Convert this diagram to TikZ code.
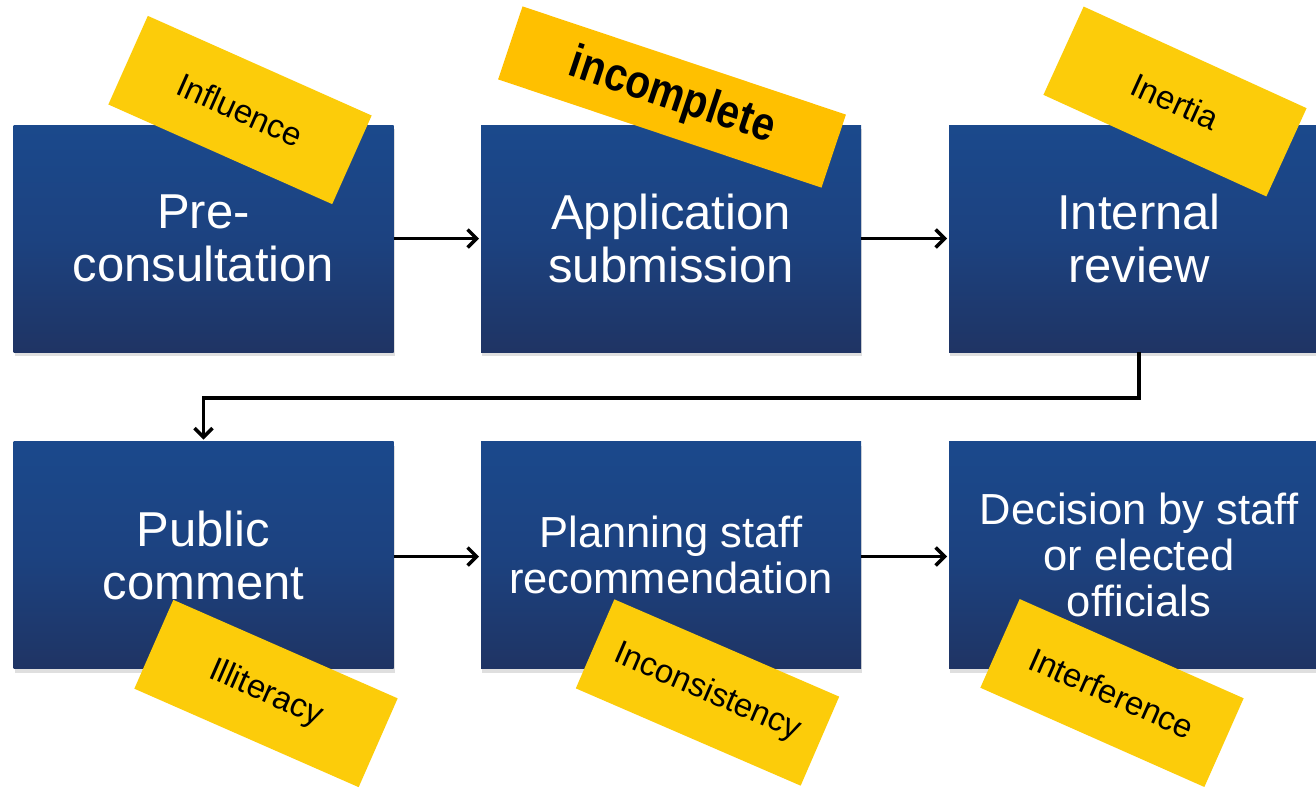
\documentclass[tikz,border=0pt]{standalone}
\usepackage{fontspec}
\setmainfont{Liberation Sans}
\newfontfamily\incfont[FakeStretch=0.86]{Liberation Sans}
\usetikzlibrary{arrows.meta,shadows}
\definecolor{boxtop}{RGB}{27,73,140}
\definecolor{boxmid}{RGB}{28,66,128}
\definecolor{boxbot}{RGB}{31,52,100}
\definecolor{sticky}{RGB}{252,204,10}
\definecolor{stickyor}{RGB}{255,192,0}
\tikzset{
  stepbox/.style={rectangle, minimum width=380pt, minimum height=227pt,
    inner sep=0pt, outer sep=0pt, top color=boxtop, bottom color=boxbot,
    middle color=boxmid, text=white, align=center,
    drop shadow={opacity=0.25, shadow xshift=1pt, shadow yshift=-4pt},
    font=\fontsize{49}{53}\selectfont},
  smalltext/.style={font=\fontsize{43.5}{46}\selectfont},
  flow/.style={line width=3.4pt, -{Straight Barb[length=9pt,width=18pt,line width=3.4pt]}, shorten >=2pt},
  sticker/.style={rectangle, fill=sticky, minimum width=245pt, minimum height=97pt,
    inner sep=0pt, text=black, font=\fontsize{33}{36}\selectfont},
}
\begin{document}
\begin{tikzpicture}[x=1pt,y=-1pt]
\useasboundingbox (0,0) rectangle (1316,788);
\clip (0,0) rectangle (1316,788);
\fill[white] (0,0) rectangle (1316,788);
% boxes
\node[stepbox] (b1) at (203.5,238.5) {Pre-\\consultation};
\node[stepbox] (b2) at (671,238.5) {Application\\submission};
\node[stepbox] (b3) at (1139,238.5) {Internal\\review};
\node[stepbox] (b4) at (203.5,555) {Public\\comment};
\node[stepbox,smalltext] (b5) at (671,555) {Planning staff\\recommendation};
\node[stepbox,smalltext] (b6) at (1139,555) {Decision by staff\\or elected\\officials};
% connectors
\draw[flow] (b1.east) -- (b2.west);
\draw[flow] (b2.east) -- (b3.west);
\coordinate (turn) at (1139,398);
\draw[flow] (b3.south) -- (turn) -| (b4.north);
\draw[flow] ([yshift=-1.5pt]b4.east) -- ([yshift=-1.5pt]b5.west);
\draw[flow] ([yshift=-1.5pt]b5.east) -- ([yshift=-1.5pt]b6.west);
% stickers
\node[sticker, rotate=-24] (s1) at (240,110) {Influence};
\node[sticker, fill=stickyor, minimum width=341pt, minimum height=77pt, rotate=-18.5,
  font=\incfont\bfseries\fontsize{47}{49}\selectfont] (s2) at (672,97) {incomplete};
\node[sticker, rotate=-24.5] (s3) at (1175,101.5) {Inertia};
\node[sticker, rotate=-23.7] (s4) at (266,693.5) {Illiteracy};
\node[sticker, rotate=-23.4] (s5) at (707.5,692.5) {Inconsistency};
\node[sticker, rotate=-23.9] (s6) at (1112,693) {Interference};
\end{tikzpicture}
\end{document}
